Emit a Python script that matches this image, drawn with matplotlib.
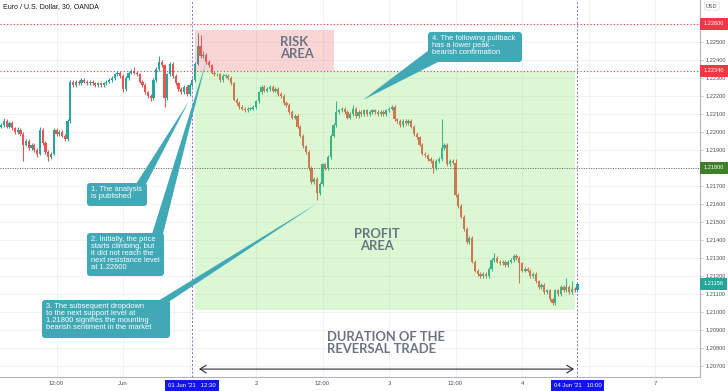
import matplotlib
matplotlib.use("Agg")
import matplotlib.pyplot as plt
from matplotlib.patches import FancyBboxPatch, Polygon, Rectangle
from matplotlib.transforms import IdentityTransform, blended_transform_factory
import numpy as np

# ---------------- data ----------------
title = "Euro / U.S. Dollar, 30, OANDA"
first_open = 1.2203
closes = [
    1.2204, 1.2206, 1.2203, 1.2205, 1.2202, 1.2200, 1.2201, 1.2199, 1.2193, 1.2195,
    1.2191, 1.2193, 1.2190, 1.2188, 1.2201, 1.2194, 1.2189, 1.2186, 1.2188, 1.2201,
    1.2199, 1.2200, 1.2198, 1.2196, 1.2206, 1.2228, 1.2226, 1.2228, 1.2227, 1.2229,
    1.2228, 1.2227, 1.2228, 1.2227, 1.2226, 1.2227, 1.2226, 1.2227, 1.2228, 1.2229,
    1.2230, 1.2232, 1.2233, 1.2231, 1.2224, 1.2230, 1.2233, 1.2234, 1.2233, 1.2232,
    1.2228, 1.2226, 1.2222, 1.2220, 1.2219, 1.2229, 1.2235, 1.2239, 1.2237, 1.2219,
    1.2232, 1.2238, 1.2231, 1.2227, 1.2224, 1.2222, 1.2225, 1.2221, 1.2226, 1.2229,
    1.2238, 1.2248, 1.2242, 1.2243, 1.2239, 1.2237, 1.2233, 1.2232, 1.2232, 1.2229,
    1.2231, 1.2231, 1.2230, 1.2227, 1.2218, 1.2216, 1.2214, 1.2213, 1.2212, 1.2213,
    1.2213, 1.2214, 1.2217, 1.2222, 1.2225, 1.2223, 1.2224, 1.2225, 1.2223, 1.2224,
    1.2221, 1.2220, 1.2216, 1.2215, 1.2211, 1.2208, 1.2209, 1.2203, 1.2198, 1.2192,
    1.2189, 1.2180, 1.2172, 1.2174, 1.2166, 1.2171, 1.2182, 1.2180, 1.2186, 1.2198,
    1.2204, 1.2211, 1.2212, 1.2213, 1.2211, 1.2208, 1.2210, 1.2213, 1.2209, 1.2211,
    1.2210, 1.2212, 1.2210, 1.2211, 1.2212, 1.2211, 1.2210, 1.2211, 1.2210, 1.2212,
    1.2213, 1.2214, 1.2207, 1.2206, 1.2204, 1.2206, 1.2205, 1.2206, 1.2203, 1.2199,
    1.2197, 1.2193, 1.2188, 1.2187, 1.2185, 1.2184, 1.2180, 1.2184, 1.2185, 1.2191,
    1.2193, 1.2182, 1.2184, 1.2183, 1.2165, 1.2159, 1.2153, 1.2146, 1.2139, 1.2141,
    1.2128, 1.2123, 1.2121, 1.2120, 1.2121, 1.2120, 1.2124, 1.2129, 1.2130, 1.2128,
    1.2127, 1.2128, 1.2126, 1.2128, 1.2129, 1.2131, 1.2130, 1.2127, 1.2123, 1.2124,
    1.2123, 1.2120, 1.2121, 1.2117, 1.2114, 1.2115, 1.2111, 1.2112, 1.2107, 1.2105,
    1.2112, 1.2110, 1.2114, 1.2112, 1.2114, 1.2111, 1.2113, 1.2112, 1.21156,
]
upper_wick_pips = [
    1, 2, 1, 1, 1, 1, 2, 1, 1, 1,
    1, 1, 1, 1, 2, 1, 1, 1, 1, 1,
    1, 1, 1, 1, 1, 1, 1, 1, 1, 1,
    1, 1, 1, 1, 1, 1, 1, 1, 1, 1,
    1, 1, 1, 1, 1, 1, 1, 1, 2, 1,
    1, 1, 1, 1, 1, 1, 1, 3, 1, 1,
    1, 1, 1, 1, 1, 1, 1, 1, 1, 1,
    1, 7, 6, 2, 1, 1, 1, 1, 1, 1,
    1, 1, 1, 1, 1, 1, 1, 1, 1, 1,
    1, 1, 1, 1, 1, 1, 1, 1, 1, 1,
    1, 1, 1, 1, 1, 1, 1, 1, 1, 1,
    1, 1, 1, 1, 1, 1, 1, 1, 1, 1,
    1, 6, 1, 1, 1, 1, 1, 2, 1, 1,
    1, 1, 1, 1, 1, 1, 1, 1, 1, 1,
    1, 1, 1, 1, 1, 1, 1, 1, 1, 1,
    1, 1, 1, 1, 1, 1, 1, 1, 1, 16,
    1, 1, 1, 1, 2, 1, 1, 1, 1, 1,
    1, 1, 1, 1, 1, 1, 1, 1, 3, 1,
    1, 1, 1, 1, 1, 1, 1, 1, 1, 1,
    1, 1, 1, 1, 1, 1, 1, 1, 1, 1,
    1, 1, 1, 1, 5, 1, 4, 1, 1,
]
lower_wick_pips = [
    1, 1, 1, 1, 1, 1, 1, 1, 9, 1,
    1, 1, 1, 2, 1, 1, 1, 2, 1, 1,
    1, 1, 1, 1, 1, 1, 1, 1, 1, 1,
    1, 1, 1, 1, 1, 1, 1, 1, 1, 1,
    1, 1, 1, 1, 2, 1, 1, 1, 1, 1,
    1, 1, 1, 1, 2, 1, 1, 1, 1, 5,
    1, 1, 1, 1, 1, 1, 1, 1, 1, 1,
    1, 1, 1, 1, 1, 1, 1, 1, 1, 1,
    1, 1, 1, 1, 1, 1, 1, 1, 1, 1,
    1, 1, 1, 1, 1, 1, 1, 1, 1, 1,
    1, 1, 1, 1, 1, 1, 1, 1, 1, 1,
    1, 1, 1, 1, 4, 1, 1, 1, 1, 1,
    1, 1, 1, 1, 1, 1, 1, 1, 1, 1,
    1, 1, 1, 1, 1, 1, 1, 1, 1, 1,
    1, 1, 1, 1, 1, 1, 1, 1, 1, 1,
    1, 1, 1, 1, 1, 1, 3, 1, 1, 1,
    1, 1, 1, 1, 1, 1, 1, 1, 1, 1,
    1, 1, 1, 1, 1, 1, 1, 1, 1, 1,
    1, 1, 1, 1, 1, 1, 1, 11, 1, 1,
    1, 1, 1, 1, 1, 1, 1, 1, 1, 1,
    1, 1, 1, 1, 1, 1, 1, 1, 1,
]
# time axis in days (31 May 00:00 = 0, 1 Jun = 1, weekend removed so 7 Jun = 5)
first_bar_day = 2 / 24
bar_days = 1 / 48
xtick_pos = [0.5, 1.0, 1.5, 2.0, 2.5, 3.0, 3.5, 4.0, 4.5, 5.0]
xtick_lab = ["12:00", "Jun", "", "2", "12:00", "3", "12:00", "4", "", "7"]
entry_day, entry_label = 1 + 12.5 / 24, "01 Jun '21   12:30"
exit_day, exit_label = 4 + 10 / 24, "04 Jun '21   10:00"
ytick_vals = [1.207, 1.208, 1.209, 1.210, 1.211, 1.212, 1.213, 1.214, 1.215, 1.216,
              1.217, 1.219, 1.220, 1.221, 1.222, 1.223, 1.224, 1.225]
resistance_hi, resistance_lo, support = 1.22600, 1.22340, 1.21800
last_price = 1.21156
risk_box = (1.5417, 2.583, 1.22340, 1.22567)
profit_box = (1.5417, 4.398, 1.21010, 1.22340)
duration_span = (1.571, 4.391)

# ---------------- figure ----------------
W, H = 728, 391
fig = plt.figure(figsize=(W / 100, H / 100), dpi=100)
fig.patch.set_facecolor("white")
ax = fig.add_axes([0, 14 / H, 700 / W, 377 / H])
ax.set_xlim(0.0752, 5.338)
ax.set_ylim(1.20639, 1.22733)

UP, DOWN = "#26a69a", "#ef5350"
TEAL = "#41a8b6"
GRID = "#eef0f5"
TXT = "#6b7482"
SMALL = "Liberation Sans"

n = len(closes)
x = first_bar_day + np.arange(n) * bar_days
c = np.array(closes)
o = np.concatenate([[first_open], c[:-1]])
top = np.maximum(o, c)
bot = np.minimum(o, c)
hi = top + np.array(upper_wick_pips) * 0.0001
lo = bot - np.array(lower_wick_pips) * 0.0001
col = np.where(c >= o, UP, DOWN)

ax.vlines(x, lo, hi, colors=col, linewidth=0.75, zorder=3)
ax.bar(x, np.maximum(top - bot, 0.00004), bottom=bot, width=bar_days * 0.8,
       color=col, edgecolor=col, linewidth=0, zorder=3)

# zones (drawn above candles with transparency like TradingView)
ax.add_patch(Rectangle((risk_box[0], risk_box[2]), risk_box[1] - risk_box[0],
                       risk_box[3] - risk_box[2], facecolor="#ec5a5a", alpha=0.25,
                       edgecolor="none", zorder=4))
ax.add_patch(Rectangle((profit_box[0], profit_box[2]), profit_box[1] - profit_box[0],
                       profit_box[3] - profit_box[2], facecolor="#73e353", alpha=0.25,
                       edgecolor="none", zorder=4))

# grid
ax.set_xticks(xtick_pos)
ax.set_xticklabels(xtick_lab, family=SMALL)
ax.set_yticks(ytick_vals)
ax.set_yticklabels([f"{v:.5f}" for v in ytick_vals], family=SMALL)
for v in np.arange(1.207, 1.2265, 0.001):
    ax.axhline(v, color=GRID, lw=0.6, zorder=1)
for v in xtick_pos:
    ax.axvline(v, color=GRID, lw=0.6, zorder=1)

# level lines
ax.axhline(resistance_hi, color="#f23645", lw=0.8, ls=(0, (1, 2)), zorder=5)
ax.axhline(resistance_lo, color="#f23645", lw=0.8, ls=(0, (1, 2)), zorder=5)
ax.axhline(support, color="#6a6a5a", lw=0.7, ls=(0, (1, 1.5)), zorder=5)
ax.axvline(entry_day, color="#7b6fd6", lw=0.7, ls=(0, (2, 2)), zorder=5)
ax.axvline(exit_day, color="#7b6fd6", lw=0.7, ls=(0, (2, 2)), zorder=5)

# axes styling
ax.yaxis.tick_right()
for s in ["top", "left"]:
    ax.spines[s].set_visible(False)
for s in ["right", "bottom"]:
    ax.spines[s].set_color("#b2b5be")
    ax.spines[s].set_linewidth(0.8)
ax.tick_params(axis="y", labelsize=4.1, labelcolor="#4a4f5a", color="#b2b5be",
               length=2.5, width=0.5, pad=1.5)
ax.tick_params(axis="x", labelsize=4.3, labelcolor="#4a4f5a", length=0, pad=3)
ax.set_facecolor("white")

# price labels on the right axis
tr = blended_transform_factory(ax.transAxes, ax.transData)
for val, bg in [(resistance_hi, "#f23645"), (resistance_lo, "#f23645"),
                (support, "#3f7f2a"), (last_price, "#26a69a")]:
    ax.text(1.0055, val, f"{val:.5f}", transform=tr, fontsize=4.1, family=SMALL,
            color="white", va="center", ha="left", zorder=10, clip_on=False,
            bbox=dict(boxstyle="square,pad=0.6", fc=bg, ec="none"))

# highlighted time labels
trx = blended_transform_factory(ax.transData, ax.transAxes)
for val, lab in [(entry_day, entry_label), (exit_day, exit_label)]:
    ax.text(val, -0.016, lab, transform=trx, fontsize=4.3, family=SMALL, color="white",
            ha="center", va="top", zorder=10, clip_on=False,
            bbox=dict(boxstyle="square,pad=0.5", fc="#1414f0", ec="none"))

I = IdentityTransform()
def D(px, py):
    return (px, H - py)

fig.text(3 / W, 1 - 7 / H, title, fontsize=5.0, color="#131722", va="center",
         ha="left", family="Liberation Sans")
fig.text(706 / W, 1 - 6 / H, "USD", fontsize=4.0, color="#4a4f5a", va="center",
         ha="left", family=SMALL,
         bbox=dict(boxstyle="round,pad=0.3", fc="white", ec="#d8dbe2", lw=0.5))

# big labels
BIG = dict(fontsize=9.4, fontweight="bold", color=TXT, family="Lato",
           linespacing=1.0, zorder=8, transform=I, va="top")
ax.text(*D(280, 36), "RISK\nAREA", ha="left", **BIG)
ax.text(*D(377, 228), "PROFIT\nAREA", ha="center", **BIG)
ax.text(*D(327, 331), "DURATION OF THE\nREVERSAL TRADE", ha="left", **BIG)

# duration arrow
ax.annotate("", xy=(duration_span[0], 0.021), xytext=(duration_span[1], 0.021),
            xycoords=trx, textcoords=trx,
            arrowprops=dict(arrowstyle="<->,head_length=0.45,head_width=0.28",
                            lw=0.8, color="#2a2e39", shrinkA=0, shrinkB=0))


def callout(x0, y0, x1, y1, text, base, tip):
    ax.add_patch(Polygon([D(*base[0]), D(*base[1]), D(*tip)], closed=True,
                         transform=I, fc=TEAL, ec="none", zorder=8, clip_on=False))
    ax.add_patch(FancyBboxPatch(D(x0, y1), x1 - x0, y1 - y0,
                                boxstyle="round,pad=0,rounding_size=3", transform=I,
                                fc=TEAL, ec="none", zorder=9, clip_on=False))
    ax.text(*D(x0 + 4, y0 + 3), text, transform=I, fontsize=5.4, family="Liberation Sans",
            color="white", ha="left", va="top", linespacing=1.0, zorder=10)


callout(87, 183, 147, 206, "1. The analysis\nis published",
        [(136, 184), (146, 184)], (189, 101))
callout(87, 233, 164, 276,
        "2. Initially, the price\nstarts climbing, but\nit did not reach the\nnext resistance level\nat 1.22600",
        [(152, 234), (163, 234)], (206, 62))
callout(42, 300, 170, 338,
        "3. The subsequent dropdown\nto the next support level at\n1.21800 signifies the mounting\nbearish sentiment in the market",
        [(158, 301), (170, 301)], (318, 203))
callout(428, 32, 522, 62,
        "4. The following pullback\nhas a lower peak -\nbearish confirmation",
        [(429, 50), (440, 61)], (363, 100))

fig.savefig("out.png", dpi=100, facecolor="white")
